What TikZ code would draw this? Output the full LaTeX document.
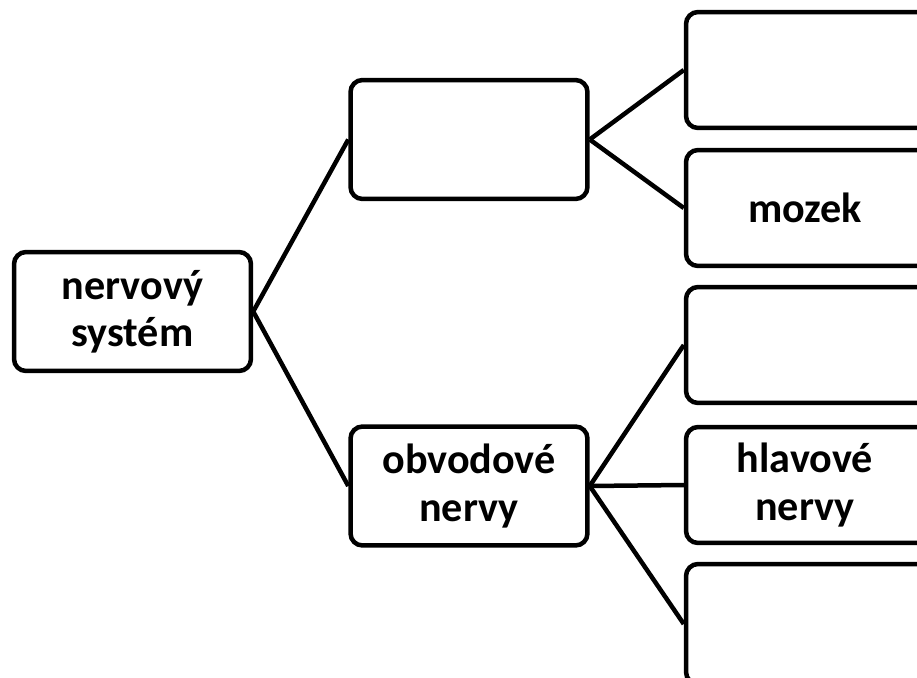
\documentclass[tikz,border=0pt]{standalone}
\usepackage{fontspec}
\setmainfont{Carlito}
\usepackage{tikz}
\usetikzlibrary{shapes,arrows}
\tikzstyle{block} = [rectangle, draw, line width=0.09cm, rounded corners=0.24cm, fill=white, text centered, align=center, inner sep=0pt, minimum width=4.74cm, minimum height=2.38cm, font=\fontsize{24}{27}\selectfont\bfseries]
\tikzstyle{leaf} = [block, minimum width=5.4cm, minimum height=2.32cm]
\tikzstyle{line} = [draw, line width=0.09cm]
% leaf boxes run off the page on the right, so their text is pulled back
\newcommand{\lft}{\hspace*{-0.64cm}}

\begin{document}
\begin{tikzpicture}[x=0.02cm, y=-0.02cm]
\path [use as bounding box, clip] (0,0) rectangle (917,677);
\fill [white] (0,0) rectangle (917,677);
\node [block] (nerv-sys) at (132.5,311.5) {nervový\\systém};
\node [block] (central) at (469,139.5) {};
\node [block] (obvod) at (469,486) {obvodové\\nervy};
\path [line] (nerv-sys.east) -- (central.west);
\path [line] (nerv-sys.east) -- (obvod.west);
\node [leaf] (central-a) at (821,70) {};
\node [leaf] (mozek) at (821,208) {\lft mozek};
\path [line] (central.east) -- (central-a.west);
\path [line] (central.east) -- (mozek.west);
\node [leaf] (obvod-a) at (821,345) {};
\node [leaf] (hlav-nervy) at (821,485) {\lft hlavové\\\lft nervy};
\node [leaf, minimum height=2.4cm] (obvod-c) at (821,624) {};
\path [line] (obvod.east) -- (obvod-a.west);
\path [line] (obvod.east) -- (hlav-nervy.west);
\path [line] (obvod.east) -- (obvod-c.west);
\end{tikzpicture}
\end{document}
